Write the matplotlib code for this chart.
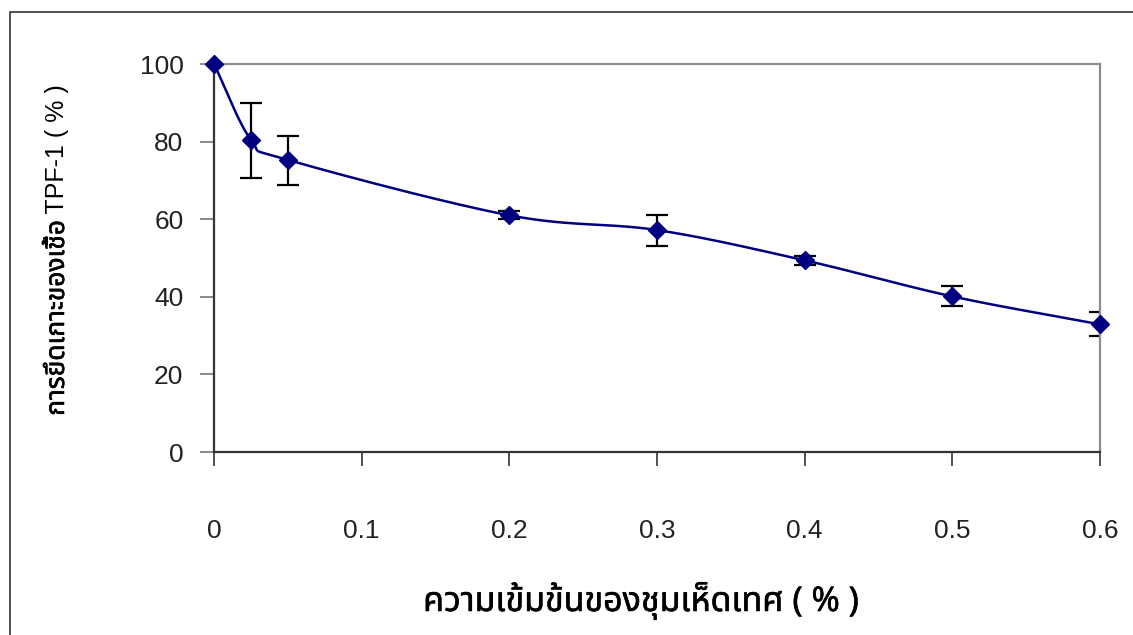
import numpy as np
import matplotlib
matplotlib.use("Agg")
import matplotlib.pyplot as plt
from matplotlib import font_manager
from matplotlib.ft2font import FT2Font
from matplotlib.patches import Rectangle
import matplotlib.patheffects as pe

# ---- data ----
concentration = [0, 0.025, 0.05, 0.2, 0.3, 0.4, 0.5, 0.6]
adhesion = [100, 80.5, 75.3, 61.0, 57.2, 49.4, 40.1, 32.9]
err_low = [0, 9.8, 6.5, 1.0, 4.0, 1.3, 2.5, 3.0]
err_high = [0, 9.5, 6.2, 1.0, 3.8, 1.2, 2.6, 3.1]
xticks = [0, 0.1, 0.2, 0.3, 0.4, 0.5, 0.6]
xticklabels = ["0", "0.1", "0.2", "0.3", "0.4", "0.5", "0.6"]
yticks = [0, 20, 40, 60, 80, 100]
xlabel = "ความเข้มข้นของชุมเห็ดเทศ ( % )"
ylabel_thai = "การยึดเกาะของเชื้อ"
ylabel_rest = " TPF-1 ( % )"

# ---- find a font with Thai glyphs ----
thai_font = None
preferred = ["Tahoma", "Noto Sans Thai", "Loma", "Garuda", "Sarabun", "Norasi", "Kinnari", "Waree", "Umpush"]
cands = []
for f in font_manager.fontManager.ttflist:
    try:
        ft = FT2Font(f.fname)
        if ord("ก") in ft.get_charmap():
            cands.append(f.name)
    except Exception:
        pass
for p in preferred:
    if p in cands:
        thai_font = p
        break
if thai_font is None and cands:
    thai_font = cands[0]
num_font = "Liberation Sans"
fam_thai = [thai_font, "DejaVu Sans"] if thai_font else ["DejaVu Sans"]
bold_fx = [pe.withStroke(linewidth=0.4, foreground="black")]

plt.rcParams["font.family"] = [num_font, "DejaVu Sans"]

W, H = 1133, 635
fig = plt.figure(figsize=(W / 100, H / 100), dpi=100)
ax = fig.add_axes([214 / W, 1 - 452 / H, (1100 - 214) / W, (452 - 64) / H])

# outer border (right and bottom edges lie outside the image)
fig.add_artist(Rectangle((10 / W, -0.2), 1.2, 1.2 - 12 / H, transform=fig.transFigure,
                         fill=False, edgecolor="#333333", lw=1.2, clip_on=False))

# smoothed line (Catmull-Rom through the points, in display-like units)
xs = np.array(concentration) / 0.6 * 886
ys = np.array(adhesion) / 100 * 388
P = np.column_stack([xs, ys])
Pext = np.vstack([2 * P[0] - P[1], P, 2 * P[-1] - P[-2]])
curve = []
for i in range(1, len(Pext) - 2):
    p0, p1, p2, p3 = Pext[i - 1], Pext[i], Pext[i + 1], Pext[i + 2]
    for t in np.linspace(0, 1, 30, endpoint=False):
        c = 0.5 * ((2 * p1) + (-p0 + p2) * t + (2 * p0 - 5 * p1 + 4 * p2 - p3) * t ** 2
                   + (-p0 + 3 * p1 - 3 * p2 + p3) * t ** 3)
        curve.append(c)
curve.append(P[-1])
curve = np.array(curve)
ax.plot(curve[:, 0] / 886 * 0.6, curve[:, 1] / 388 * 100, color="#000080", lw=1.8,
        zorder=3, clip_on=False)

ax.errorbar(concentration, adhesion, yerr=[err_low, err_high], fmt="none",
            ecolor="black", elinewidth=1.6, capsize=8, capthick=1.6, zorder=2)
ax.plot(concentration, adhesion, linestyle="none", marker="D", markersize=9.5,
        color="#000080", zorder=4, clip_on=False)

ax.set_xlim(0, 0.6)
ax.set_ylim(0, 100)
ax.set_xticks(xticks)
ax.set_xticklabels(xticklabels)
ax.set_yticks(yticks)
ax.set_yticklabels([str(v) for v in yticks])

for s in ["top", "right"]:
    ax.spines[s].set_color("#8c8c8c")
    ax.spines[s].set_linewidth(1.6)
for s in ["left", "bottom"]:
    ax.spines[s].set_color("#333333")
    ax.spines[s].set_linewidth(1.6)

ax.tick_params(axis="x", direction="out", length=10, width=1.2, color="#333333",
               labelsize=19, pad=38, labelcolor="#222222")
ax.tick_params(axis="y", direction="out", length=10, width=1.2, color="#777777",
               labelsize=19, pad=12, labelcolor="#222222")

fig.text(641 / W, 1 - 601 / H, xlabel, ha="center", va="center", fontsize=24.5,
         fontweight="bold", family=fam_thai, color="black", path_effects=bold_fx)

t1 = fig.text(57 / W, 1 - 318 / H, ylabel_thai, ha="center", va="center", rotation=90,
              fontsize=19, fontweight="bold", family=fam_thai, color="black",
              path_effects=bold_fx)
fig.canvas.draw()
bb = t1.get_window_extent()
fig.text(57 / W, bb.y1 / H, ylabel_rest, ha="center", va="bottom", rotation=90,
         fontsize=18, family=[num_font, "DejaVu Sans"], color="black")

fig.savefig("out.png", dpi=100)
